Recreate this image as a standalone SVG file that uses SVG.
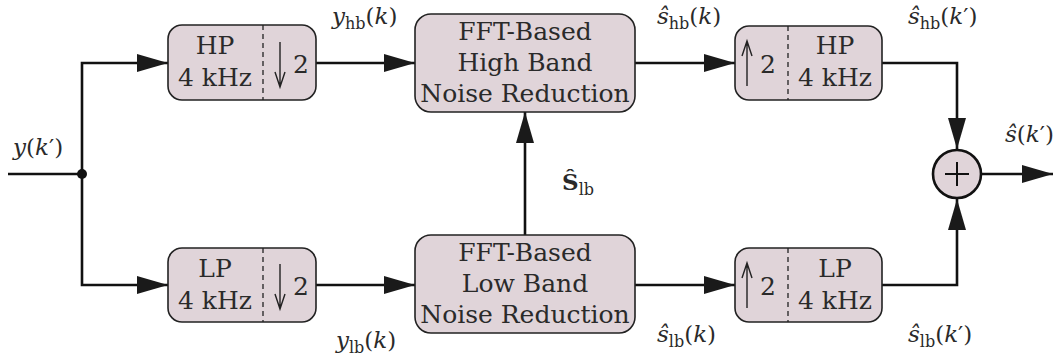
<svg xmlns="http://www.w3.org/2000/svg" width="1060" height="358" viewBox="0 0 1060 358">
  <defs>
    <marker id="arr" markerUnits="userSpaceOnUse" markerWidth="32" markerHeight="20" refX="31" refY="10" orient="auto">
      <path d="M0,1 L31,10 L0,19 Z" fill="#1a1a1a"/>
    </marker>
    <style>
      .box { fill: #e0d4d9; stroke: #222; stroke-width: 1.6; }
      .div { stroke: #222; stroke-width: 1.3; stroke-dasharray: 5 4; }
      .wire { fill: none; stroke: #111; stroke-width: 2.6; }
      .thin { fill: none; stroke: #222; stroke-width: 1.4; }
      text { font-family: 'DejaVu Serif', serif; fill: #2a2a2a; }
      .t { font-size: 25px; text-anchor: middle; }
      .m { font-size: 23px; }
      .i { font-style: italic; }
      .sub { font-size: 16px; }
    </style>
  </defs>

  <!-- connectors -->
  <g id="connectors">
    <path class="wire" d="M8,174 H82"/>
    <path class="wire" d="M82,174 V63 H168" marker-end="url(#arr)"/>
    <path class="wire" d="M82,174 V285 H168" marker-end="url(#arr)"/>
    <path class="wire" d="M316,63 H415" marker-end="url(#arr)"/>
    <path class="wire" d="M316,285 H415" marker-end="url(#arr)"/>
    <path class="wire" d="M525,235 V112" marker-end="url(#arr)"/>
    <path class="wire" d="M635,63 H735" marker-end="url(#arr)"/>
    <path class="wire" d="M635,285 H735" marker-end="url(#arr)"/>
    <path class="wire" d="M882,63 H957 V149" marker-end="url(#arr)"/>
    <path class="wire" d="M882,285 H957 V199" marker-end="url(#arr)"/>
    <path class="wire" d="M981,174 H1053" marker-end="url(#arr)"/>
    <circle cx="82" cy="174" r="5" fill="#111"/>
  </g>

  <!-- high-pass filter and decimation -->
  <g id="hp-down">
    <rect class="box" x="168" y="25" width="148" height="75" rx="14"/>
    <line class="div" x1="263" y1="25" x2="263" y2="100"/>
    <text class="t" x="215" y="54">HP</text>
    <text class="t" x="215" y="86">4 kHz</text>
    <path class="thin" d="M280,42 V87 M275,72 L280,87 L285,72"/>
    <text class="t" x="301" y="73">2</text>
  </g>

  <!-- low-pass filter and decimation -->
  <g id="lp-down">
    <rect class="box" x="168" y="248" width="148" height="74" rx="14"/>
    <line class="div" x1="263" y1="248" x2="263" y2="322"/>
    <text class="t" x="215" y="277">LP</text>
    <text class="t" x="215" y="309">4 kHz</text>
    <path class="thin" d="M280,264 V309 M275,294 L280,309 L285,294"/>
    <text class="t" x="301" y="295">2</text>
  </g>

  <!-- high band noise reduction -->
  <g id="nr-high">
    <rect class="box" x="415" y="14" width="220" height="98" rx="16"/>
    <text class="t" x="525" y="40">FFT-Based</text>
    <text class="t" x="525" y="71">High Band</text>
    <text class="t" x="525" y="102">Noise Reduction</text>
  </g>

  <!-- low band noise reduction -->
  <g id="nr-low">
    <rect class="box" x="415" y="235" width="220" height="98" rx="16"/>
    <text class="t" x="525" y="261">FFT-Based</text>
    <text class="t" x="525" y="292">Low Band</text>
    <text class="t" x="525" y="323">Noise Reduction</text>
  </g>

  <!-- interpolation and high-pass filter -->
  <g id="hp-up">
    <rect class="box" x="735" y="26" width="147" height="74" rx="14"/>
    <line class="div" x1="788" y1="26" x2="788" y2="100"/>
    <path class="thin" d="M747,86 V41 M742,56 L747,41 L752,56"/>
    <text class="t" x="768" y="73">2</text>
    <text class="t" x="835" y="54">HP</text>
    <text class="t" x="835" y="86">4 kHz</text>
  </g>

  <!-- interpolation and low-pass filter -->
  <g id="lp-up">
    <rect class="box" x="735" y="248" width="147" height="74" rx="14"/>
    <line class="div" x1="788" y1="248" x2="788" y2="322"/>
    <path class="thin" d="M747,308 V263 M742,278 L747,263 L752,278"/>
    <text class="t" x="768" y="295">2</text>
    <text class="t" x="835" y="277">LP</text>
    <text class="t" x="835" y="309">4 kHz</text>
  </g>

  <!-- summation -->
  <g id="sum">
    <circle cx="957" cy="174" r="24" fill="#e0d4d9" stroke="#111" stroke-width="2.6"/>
    <path d="M945,174 H969 M957,162 V186" stroke="#111" stroke-width="2"/>
  </g>

  <!-- signal labels -->
  <g id="labels">
    <text class="m" x="13" y="155"><tspan class="i">y</tspan>(<tspan class="i">k</tspan>′)</text>
    <text class="m" x="332" y="24"><tspan class="i">y</tspan><tspan class="sub" dy="5">hb</tspan><tspan dy="-5">(</tspan><tspan class="i">k</tspan>)</text>
    <text class="m" x="336" y="348"><tspan class="i">y</tspan><tspan class="sub" dy="5">lb</tspan><tspan dy="-5">(</tspan><tspan class="i">k</tspan>)</text>
    <text class="m" x="657" y="24"><tspan class="i">ŝ</tspan><tspan class="sub" dy="5">hb</tspan><tspan dy="-5">(</tspan><tspan class="i">k</tspan>)</text>
    <text class="m" x="657" y="342"><tspan class="i">ŝ</tspan><tspan class="sub" dy="5">lb</tspan><tspan dy="-5">(</tspan><tspan class="i">k</tspan>)</text>
    <text class="m" x="908" y="24"><tspan class="i">ŝ</tspan><tspan class="sub" dy="5">hb</tspan><tspan dy="-5">(</tspan><tspan class="i">k</tspan>′)</text>
    <text class="m" x="908" y="342"><tspan class="i">ŝ</tspan><tspan class="sub" dy="5">lb</tspan><tspan dy="-5">(</tspan><tspan class="i">k</tspan>′)</text>
    <text class="m" x="1005" y="142"><tspan class="i">ŝ</tspan>(<tspan class="i">k</tspan>′)</text>
    <text class="m" x="562" y="190" font-weight="bold">Ŝ<tspan class="sub" font-weight="normal" dy="5">lb</tspan></text>
  </g>
</svg>
